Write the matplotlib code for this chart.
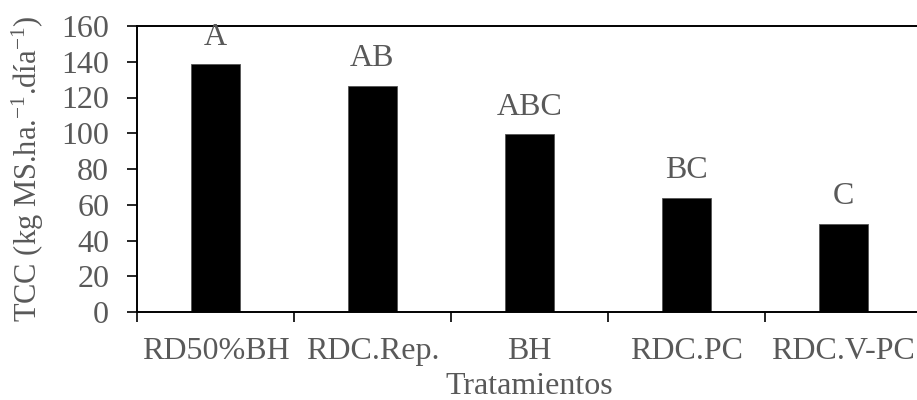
import numpy as np
import matplotlib.pyplot as plt
from matplotlib.ticker import FixedLocator, NullFormatter

plt.rcParams['font.family'] = ['Liberation Serif', 'DejaVu Serif']
plt.rcParams['mathtext.fontset'] = 'custom'
plt.rcParams['mathtext.rm'] = 'Liberation Serif'
plt.rcParams['mathtext.it'] = 'Liberation Serif:italic'

# Tasa de crecimiento del cultivo por tratamiento
tratamientos = ['RD50%BH', 'RDC.Rep.', 'BH', 'RDC.PC', 'RDC.V-PC']
tcc = [138.5, 126.5, 99.5, 64, 49.5]
letras = ['A', 'AB', 'ABC', 'BC', 'C']

gris = '#595959'
fs = 23

fig = plt.figure(figsize=(9.17, 4.0), dpi=100)
ax = fig.add_axes([137 / 917, 88 / 400, 785 / 917, 286 / 400])

x = np.arange(len(tratamientos))
bars = ax.bar(x, tcc, width=0.31, color='black', edgecolor='#555555', linewidth=0.6)

for rect, letra in zip(bars, letras):
    ax.annotate(letra, (rect.get_x() + rect.get_width() / 2, rect.get_height()),
                xytext=(0, 9), textcoords='offset points',
                ha='center', va='bottom', fontsize=fs, color=gris)

ax.set_xlim(-0.5, len(tratamientos) - 0.5)
ax.set_ylim(0, 160)
ax.set_yticks(np.arange(0, 161, 20))

# ticks on category boundaries, labels on category centres
ax.xaxis.set_major_locator(FixedLocator(np.arange(-0.5, len(tratamientos), 1.0)))
ax.xaxis.set_major_formatter(NullFormatter())
ax.xaxis.set_minor_locator(FixedLocator(x))
ax.set_xticklabels(tratamientos, minor=True)
ax.tick_params(axis='x', which='minor', length=0, pad=18, labelsize=fs, labelcolor=gris)
ax.tick_params(axis='x', which='major', direction='out', length=7, width=1.2)
ax.tick_params(axis='y', direction='out', length=7, width=1.2, pad=13,
               labelsize=fs, labelcolor=gris)

for side in ['left', 'bottom', 'top']:
    ax.spines[side].set_linewidth(1.4)
ax.spines['right'].set_visible(False)

ax.set_xlabel('Tratamientos', fontsize=fs, color=gris, labelpad=4)
ax.set_ylabel(r'TCC (kg MS.ha.$^{-1}$.día$^{-1}$)', fontsize=22, color=gris, labelpad=11)

fig.savefig('out.png', dpi=100)
